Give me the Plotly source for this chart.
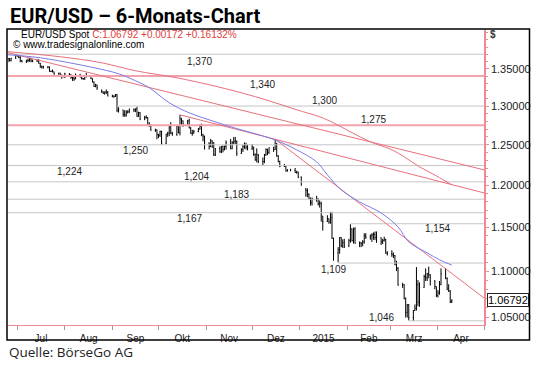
import math
import pandas as pd
import plotly.graph_objects as go

# ---------------- EUR/USD daily bars (open, high, low, close) ----------------
JUN = [(1.3605,1.3645,1.3590,1.3640),(1.3640,1.3646,1.3600,1.3615),(1.3615,1.3650,1.3600,1.3645),
       (1.3645,1.3695,1.3635,1.3690)]
JUL = [(1.3690,1.3700,1.3665,1.3680),(1.3680,1.3690,1.3645,1.3655),(1.3655,1.3675,1.3590,1.3610),
       (1.3610,1.3620,1.3590,1.3595),(1.3595,1.3625,1.3580,1.3610),(1.3610,1.3640,1.3590,1.3615),
       (1.3615,1.3650,1.3595,1.3640),(1.3640,1.3650,1.3590,1.3605),(1.3605,1.3625,1.3590,1.3605),
       (1.3605,1.3630,1.3595,1.3610),(1.3610,1.3630,1.3570,1.3575),(1.3575,1.3580,1.3515,1.3525),
       (1.3525,1.3545,1.3505,1.3525),(1.3525,1.3540,1.3500,1.3525),(1.3525,1.3535,1.3505,1.3525),
       (1.3525,1.3530,1.3460,1.3465),(1.3465,1.3475,1.3455,1.3465),(1.3465,1.3490,1.3450,1.3460),
       (1.3460,1.3460,1.3420,1.3430),(1.3430,1.3445,1.3420,1.3440),(1.3440,1.3445,1.3410,1.3410),
       (1.3410,1.3420,1.3365,1.3395),(1.3395,1.3410,1.3385,1.3390)]
AUG = [(1.3390,1.3445,1.3375,1.3430),(1.3430,1.3440,1.3410,1.3415),(1.3415,1.3425,1.3365,1.3380),
       (1.3380,1.3390,1.3335,1.3375),(1.3375,1.3395,1.3335,1.3360),(1.3360,1.3435,1.3360,1.3415),
       (1.3415,1.3430,1.3385,1.3385),(1.3385,1.3395,1.3355,1.3365),(1.3365,1.3375,1.3350,1.3365),
       (1.3365,1.3405,1.3350,1.3400),(1.3400,1.3445,1.3380,1.3400),(1.3400,1.3400,1.3360,1.3365),
       (1.3365,1.3370,1.3315,1.3320),(1.3320,1.3330,1.3255,1.3260),(1.3260,1.3295,1.3250,1.3280),
       (1.3280,1.3285,1.3215,1.3240),(1.3200,1.3220,1.3175,1.3190),(1.3190,1.3195,1.3160,1.3170),
       (1.3170,1.3195,1.3150,1.3185),(1.3185,1.3220,1.3160,1.3180),(1.3180,1.3200,1.3130,1.3130)]
SEP = [(1.3130,1.3150,1.3115,1.3130),(1.3130,1.3140,1.3110,1.3130),(1.3130,1.3160,1.3120,1.3150),
       (1.3150,1.3160,1.2920,1.2945),(1.2945,1.2985,1.2915,1.2950),(1.2950,1.2950,1.2860,1.2890),
       (1.2890,1.2945,1.2860,1.2880),(1.2880,1.2945,1.2860,1.2920),(1.2920,1.2945,1.2900,1.2925),
       (1.2925,1.2965,1.2910,1.2960),(1.2960,1.2965,1.2920,1.2950),(1.2950,1.2970,1.2920,1.2960),
       (1.2960,1.2990,1.2860,1.2865),(1.2865,1.2925,1.2860,1.2915),(1.2915,1.2920,1.2815,1.2830),
       (1.2830,1.2870,1.2815,1.2850),(1.2850,1.2880,1.2835,1.2850),(1.2850,1.2855,1.2745,1.2760),
       (1.2760,1.2790,1.2730,1.2750),(1.2750,1.2760,1.2680,1.2685),(1.2685,1.2705,1.2665,1.2690),
       (1.2690,1.2695,1.2570,1.2630)]
OCT = [(1.2630,1.2640,1.2585,1.2620),(1.2620,1.2680,1.2600,1.2670),(1.2670,1.2680,1.2500,1.2520),
       (1.2520,1.2640,1.2510,1.2635),(1.2635,1.2665,1.2600,1.2650),(1.2650,1.2745,1.2610,1.2730),
       (1.2730,1.2790,1.2635,1.2650),(1.2650,1.2665,1.2615,1.2630),(1.2630,1.2750,1.2615,1.2735),
       (1.2735,1.2735,1.2645,1.2655),(1.2655,1.2885,1.2620,1.2830),(1.2830,1.2845,1.2740,1.2810),
       (1.2810,1.2810,1.2730,1.2760),(1.2760,1.2820,1.2740,1.2805),(1.2805,1.2835,1.2710,1.2715),
       (1.2715,1.2725,1.2640,1.2645),(1.2645,1.2690,1.2615,1.2650),(1.2650,1.2690,1.2640,1.2670),
       (1.2670,1.2715,1.2660,1.2700),(1.2700,1.2765,1.2695,1.2735),(1.2735,1.2770,1.2610,1.2630),
       (1.2630,1.2640,1.2545,1.2610),(1.2610,1.2615,1.2440,1.2525)]
NOV = [(1.2525,1.2530,1.2440,1.2480),(1.2480,1.2575,1.2470,1.2550),(1.2550,1.2555,1.2460,1.2490),
       (1.2490,1.2535,1.2360,1.2375),(1.2375,1.2460,1.2358,1.2450),(1.2450,1.2480,1.2400,1.2410),
       (1.2410,1.2485,1.2395,1.2480),(1.2480,1.2490,1.2405,1.2440),(1.2440,1.2490,1.2430,1.2480),
       (1.2480,1.2555,1.2440,1.2525),(1.2525,1.2575,1.2445,1.2450),(1.2450,1.2545,1.2445,1.2530),
       (1.2530,1.2600,1.2510,1.2545),(1.2545,1.2600,1.2510,1.2545),(1.2545,1.2555,1.2360,1.2390),
       (1.2390,1.2455,1.2385,1.2440),(1.2440,1.2500,1.2410,1.2475),(1.2475,1.2530,1.2450,1.2505),
       (1.2505,1.2525,1.2440,1.2470),(1.2470,1.2500,1.2430,1.2450)]
DEC = [(1.2450,1.2510,1.2435,1.2470),(1.2470,1.2475,1.2360,1.2380),(1.2380,1.2390,1.2300,1.2310),
       (1.2310,1.2455,1.2280,1.2375),(1.2375,1.2385,1.2270,1.2290),(1.2290,1.2340,1.2245,1.2290),
       (1.2290,1.2385,1.2270,1.2375),(1.2375,1.2455,1.2360,1.2440),(1.2440,1.2450,1.2370,1.2400),
       (1.2400,1.2465,1.2385,1.2465),(1.2465,1.2475,1.2410,1.2440),(1.2440,1.2570,1.2435,1.2510),
       (1.2510,1.2525,1.2350,1.2360),(1.2360,1.2370,1.2280,1.2290),(1.2290,1.2300,1.2220,1.2230),
       (1.2230,1.2260,1.2225,1.2230),(1.2230,1.2235,1.2165,1.2175),(1.2175,1.2195,1.2165,1.2185),
       (1.2185,1.2200,1.2170,1.2180),(1.2180,1.2210,1.2150,1.2155),(1.2155,1.2175,1.2140,1.2160),
       (1.2160,1.2165,1.2085,1.2100)]
JAN = [(1.2100,1.2105,1.1995,1.2000),(1.1950,1.1965,1.1860,1.1935),(1.1935,1.1960,1.1855,1.1890),
       (1.1890,1.1900,1.1830,1.1840),(1.1840,1.1850,1.1755,1.1790),(1.1790,1.1850,1.1755,1.1840),
       (1.1840,1.1870,1.1800,1.1835),(1.1835,1.1840,1.1755,1.1775),(1.1775,1.1815,1.1730,1.1780),
       (1.1780,1.1800,1.1565,1.1630),(1.1630,1.1630,1.1460,1.1565),(1.1565,1.1640,1.1560,1.1600),
       (1.1600,1.1600,1.1540,1.1560),(1.1560,1.1680,1.1540,1.1610),(1.1610,1.1680,1.1365,1.1370),
       (1.1370,1.1380,1.1115,1.1205),(1.1205,1.1270,1.1098,1.1240),(1.1240,1.1385,1.1195,1.1380),
       (1.1380,1.1385,1.1270,1.1285),(1.1285,1.1360,1.1260,1.1320),(1.1320,1.1365,1.1260,1.1290)]
FEB = [(1.1290,1.1365,1.1270,1.1345),(1.1345,1.1535,1.1320,1.1480),(1.1480,1.1485,1.1335,1.1345),
       (1.1345,1.1495,1.1310,1.1480),(1.1480,1.1500,1.1310,1.1315),(1.1315,1.1335,1.1270,1.1320),
       (1.1320,1.1325,1.1270,1.1315),(1.1315,1.1350,1.1280,1.1330),(1.1330,1.1430,1.1310,1.1400),
       (1.1400,1.1430,1.1365,1.1385),(1.1385,1.1415,1.1355,1.1405),(1.1405,1.1430,1.1330,1.1410),
       (1.1410,1.1440,1.1355,1.1415),(1.1415,1.1450,1.1350,1.1380),(1.1380,1.1450,1.1320,1.1380),
       (1.1380,1.1380,1.1295,1.1330),(1.1330,1.1365,1.1305,1.1345),(1.1345,1.1390,1.1335,1.1360),
       (1.1360,1.1365,1.1195,1.1200),(1.1200,1.1225,1.1175,1.1195)]
MAR = [(1.1195,1.1235,1.1160,1.1185),(1.1185,1.1210,1.1145,1.1175),(1.1175,1.1180,1.1065,1.1075),
       (1.1075,1.1115,1.1000,1.1030),(1.1030,1.1045,1.0840,1.0845),(1.0845,1.0870,1.0815,1.0850),
       (1.0850,1.0855,1.0690,1.0700),(1.0700,1.0710,1.0495,1.0550),(1.0550,1.0640,1.0495,1.0630),
       (1.0630,1.0640,1.0465,1.0495),(1.0495,1.0575,1.0458,1.0570),(1.0570,1.0635,1.0565,1.0595),
       (1.0595,1.1045,1.0570,1.0850),(1.0850,1.0900,1.0615,1.0660),(1.0660,1.0875,1.0610,1.0820),
       (1.0820,1.0960,1.0815,1.0940),(1.0940,1.1030,1.0890,1.0925),(1.0925,1.0980,1.0890,1.0970),
       (1.0970,1.1050,1.0920,1.0960),(1.0960,1.0965,1.0840,1.0890),(1.0890,1.0900,1.0800,1.0830),
       (1.0830,1.0830,1.0715,1.0730)]
APR = [(1.0730,1.0790,1.0710,1.0760),(1.0760,1.0890,1.0740,1.0850),(1.0850,1.1030,1.0845,1.0970),
       (1.0970,1.1035,1.0910,1.0920),(1.0920,1.0930,1.0790,1.0800),(1.0800,1.0855,1.0770,1.0780),
       (1.0780,1.0790,1.0650,1.0662),(1.0662,1.0690,1.0650,1.0679)]

HOLIDAYS = ["2014-12-25", "2015-01-01"]

# 200-day style moving average (red curve) and short moving average (blue)
MA_RED_DATES = ["2014-06-25","2014-07-29","2014-08-25","2014-09-16","2014-10-13","2014-11-03",
                "2014-11-24","2014-12-12","2014-12-30","2015-01-14","2015-01-23","2015-02-03",
                "2015-02-16","2015-03-02","2015-03-10","2015-03-20","2015-03-31","2015-04-10"]
MA_RED_VALUES = [1.3735,1.3665,1.3582,1.3473,1.3377,1.3283,1.3176,1.3069,1.2951,1.2859,1.2781,
                 1.2665,1.2538,1.2437,1.2349,1.2224,1.2113,1.2003]
MA_BLUE_DATES = ["2014-06-25","2014-07-16","2014-08-04","2014-08-20","2014-09-05","2014-09-16",
                 "2014-09-25","2014-10-08","2014-10-21","2014-11-03","2014-11-17","2014-12-01",
                 "2014-12-10","2014-12-19","2014-12-30","2015-01-12","2015-01-19","2015-01-28",
                 "2015-02-09","2015-02-23","2015-03-06","2015-03-13","2015-03-25","2015-04-02",
                 "2015-04-10"]
MA_BLUE_VALUES = [1.3693,1.3651,1.3582,1.3514,1.3432,1.3337,1.3243,1.3043,1.2911,1.2820,1.2730,
                  1.2652,1.2601,1.2538,1.2437,1.2286,1.2125,1.1943,1.1798,1.1667,1.1503,1.1330,
                  1.1205,1.1127,1.1067]

# trend lines: start date, start value, end date, end value
TREND_START_DATES = ["2014-06-25", "2014-10-15", "2014-12-16"]
TREND_START_VALUES = [1.3721, 1.2885, 1.2570]
TREND_END_DATES = ["2015-05-01", "2015-05-01", "2015-05-01"]
TREND_END_VALUES = [1.2187, 1.1906, 1.0705]

# horizontal support / resistance levels
LEVELS = [1.370, 1.340, 1.300, 1.275, 1.250, 1.224, 1.204, 1.183, 1.167, 1.154, 1.109, 1.046]
LEVEL_TEXT = ["1,370","1,340","1,300","1,275","1,250","1,224","1,204","1,183","1,167","1,154","1,109","1,046"]
LEVEL_START = ["2014-06-25","2014-06-25","2014-09-04","2014-06-25","2014-06-25","2014-06-25",
               "2014-06-25","2014-06-25","2014-06-25","2015-02-03","2015-01-26","2015-03-13"]
LEVEL_LABEL_DATE = ["2014-10-28","2014-12-08","2015-01-17","2015-02-18","2014-09-16","2014-08-04",
                    "2014-10-26","2014-11-21","2014-10-21","2015-04-01","2015-01-23","2015-02-23"]
LEVEL_LABEL_SHIFT = [-7, -8, 6, 6, -6, -6, 5, 5, -6, -5, -6, 3]
PINK_LEVELS = [1.340, 1.275]

X_RANGE = ["2014-06-25", "2015-05-01"]
Y_TICKS = [1.05, 1.10, 1.15, 1.20, 1.25, 1.30, 1.35]
Y_MINOR = [round(1.04 + 0.01 * i, 2) for i in range(37)]
MONTH_DEFAULT = ["Jul","Aug","Sep","Oct","Nov","Dec","Jan","Feb","Mar","Apr"]
MONTH_LABELS = ["Jul","Aug","Sep","Okt","Nov","Dez","2015","Feb","Mrz","Apr"]
LAST_PRICE = 1.06792

# ---------------------------------------------------------------------------
bars = JUN + JUL + AUG + SEP + OCT + NOV + DEC + JAN + FEB + MAR + APR
days = pd.bdate_range("2014-06-25", "2015-04-10")
days = days[~days.isin(pd.to_datetime(HOLIDAYS))]
n = min(len(days), len(bars))
days = days[:n]
bars = bars[:n]

y_lo, y_hi = 1.0416, 1.404

fig = go.Figure()

# level lines
for lv, st in zip(LEVELS, LEVEL_START):
    pink = lv in PINK_LEVELS
    fig.add_trace(go.Scatter(
        x=[st, X_RANGE[1]], y=[lv, lv], mode="lines",
        line=dict(color="#f3a3ad" if pink else "#c6c6c6", width=2 if pink else 1),
        hoverinfo="skip", showlegend=False))

# price bars
fig.add_trace(go.Ohlc(
    x=days, open=[b[0] for b in bars], high=[b[1] for b in bars],
    low=[b[2] for b in bars], close=[b[3] for b in bars],
    increasing=dict(line=dict(color="black", width=1)),
    decreasing=dict(line=dict(color="black", width=1)),
    tickwidth=0.4, showlegend=False))

# trend lines
for sd, sv, ed, ev in zip(TREND_START_DATES, TREND_START_VALUES, TREND_END_DATES, TREND_END_VALUES):
    fig.add_trace(go.Scatter(x=[sd, ed], y=[sv, ev], mode="lines",
                             line=dict(color="#e8707c", width=1), showlegend=False, hoverinfo="skip"))

fig.add_trace(go.Scatter(x=MA_RED_DATES, y=MA_RED_VALUES, mode="lines",
                         line=dict(color="#e8707c", width=1, shape="spline"),
                         showlegend=False, hoverinfo="skip"))
fig.add_trace(go.Scatter(x=MA_BLUE_DATES, y=MA_BLUE_VALUES, mode="lines",
                         line=dict(color="#7b7ce8", width=1, shape="spline"),
                         showlegend=False, hoverinfo="skip"))

annotations = []
for lv, txt, d, sh in zip(LEVELS, LEVEL_TEXT, LEVEL_LABEL_DATE, LEVEL_LABEL_SHIFT):
    annotations.append(dict(x=d, y=math.log10(lv), xref="x", yref="y", text=txt, showarrow=False,
                            yshift=sh, font=dict(family="Liberation Sans, Arial", size=10, color="#222")))

PW, PH = 476.0, 295.0
def px(xp):
    return (xp - 8) / PW
def py(yp):
    return (325 - yp) / PH

annotations += [
    dict(x=px(8), y=py(16), xref="paper", yref="paper", xanchor="left", yanchor="middle",
         text="<b>EUR/USD – 6-Monats-Chart</b>", showarrow=False,
         font=dict(family="Roboto, Liberation Sans", size=20, color="black")),
    dict(x=px(7), y=py(352), xref="paper", yref="paper", xanchor="left", yanchor="middle",
         text="Quelle: BörseGo AG", showarrow=False,
         font=dict(family="Open Sans, Liberation Sans", size=13.5, color="#222")),
    dict(x=px(19), y=py(35), xref="paper", yref="paper", xanchor="left", yanchor="middle",
         text="EUR/USD Spot <span style='color:#e23b3b'>C:1.06792 +0.00172 +0.16132%</span>",
         showarrow=False, font=dict(family="Liberation Sans, Arial", size=10, color="black")),
    dict(x=px(11), y=py(44.5), xref="paper", yref="paper", xanchor="left", yanchor="middle",
         text="© www.tradesignalonline.com", showarrow=False,
         font=dict(family="Liberation Sans, Arial", size=10, color="black")),
    dict(x=px(488), y=py(35), xref="paper", yref="paper", xanchor="left", yanchor="middle",
         text="<b>$</b>", showarrow=False,
         font=dict(family="Liberation Sans, Arial", size=10, color="#333")),
    dict(x=px(487), y=math.log10(LAST_PRICE), xref="paper", yref="y", xanchor="left", yanchor="middle",
         text="1.06792", showarrow=False, bgcolor="white", bordercolor="#222", borderwidth=1, borderpad=0,
         font=dict(family="Liberation Sans, Arial", size=11, color="black")),
]

fig.update_layout(
    width=540, height=366,
    margin=dict(l=8, r=56, t=30, b=41, autoexpand=False),
    paper_bgcolor="white", plot_bgcolor="white",
    showlegend=False,
    annotations=annotations,
    shapes=[dict(type="rect", xref="paper", yref="paper",
                 x0=px(7), x1=px(529.5), y0=py(340), y1=py(29),
                 line=dict(color="black", width=1.5))],
    xaxis=dict(type="date", range=X_RANGE, rangeslider=dict(visible=False),
               tickmode="linear", tick0="2014-07-01", dtick="M1", tickformat="%b",
               labelalias=dict(zip(MONTH_DEFAULT, MONTH_LABELS)),
               ticklabelmode="period", ticks="outside", ticklen=4, tickcolor="#999",
               showgrid=False, zeroline=False, showline=True, linecolor="#f08a94", linewidth=1,
               tickfont=dict(family="Liberation Sans, Arial", size=10, color="#222")),
    yaxis=dict(type="log", side="right", range=[math.log10(y_lo), math.log10(y_hi)],
               tickmode="array", tickvals=Y_TICKS, ticktext=[f"{v:.5f}" for v in Y_TICKS],
               ticks="outside", ticklen=3, tickcolor="#f08a94",
               minor=dict(tickmode="array", tickvals=Y_MINOR, ticks="outside", ticklen=2, tickcolor="#f08a94"),
               showgrid=False, zeroline=False, showline=True, linecolor="#f08a94", linewidth=1.5,
               tickfont=dict(family="Liberation Sans, Arial", size=11, color="#222")),
)

fig.write_html("out.html", config={"displayModeBar": False},
               post_script="document.body.style.margin='0';document.body.style.padding='0';")
